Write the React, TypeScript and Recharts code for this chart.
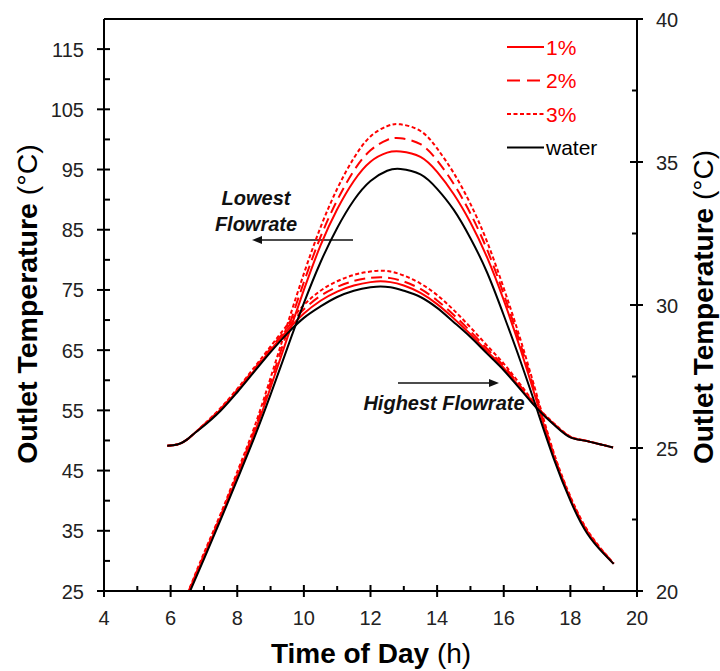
import React from 'react';
import { LineChart, Line, XAxis, YAxis, ReferenceLine, Customized } from 'recharts';

// Time of day (h)
const xTicks = [4, 5, 6, 7, 8, 9, 10, 11, 12, 13, 14, 15, 16, 17, 18, 19, 20];
const leftTicks = [25, 30, 35, 40, 45, 50, 55, 60, 65, 70, 75, 80, 85, 90, 95, 100, 105, 110, 115];
const rightTicks = [20, 22.5, 25, 27.5, 30, 32.5, 35, 37.5, 40];

// Lowest flowrate (left axis)
const hoursLow = [6.5, 7, 7.5, 8, 8.5, 9, 9.5, 10, 10.5, 11, 11.5, 12, 12.5, 12.9, 13.5, 14, 14.5, 15, 15.5, 16, 16.5, 17, 17.5, 18, 18.5, 19, 19.3];
const lowWater = [23.9, 30.3, 36.8, 43.5, 50.3, 57.6, 65.3, 72.8, 79.6, 85.3, 89.9, 93.1, 94.8, 95.1, 94.2, 91.8, 88.3, 83.6, 77.9, 70.8, 63.2, 55.1, 47, 40, 34.6, 31.2, 29.5];
const lowOne = [24.4, 30.8, 37.2, 44, 51, 58.8, 67, 75, 82.4, 88.4, 93.1, 96.3, 97.8, 98, 97.1, 94.6, 90.9, 86.2, 80.4, 73.3, 65.2, 56.3, 47.4, 40.3, 34.9, 31.3, 29.5];
const lowTwo = [24.4, 31, 37.5, 44.4, 51.5, 59.6, 68.1, 76.3, 83.8, 89.9, 94.8, 98.2, 99.9, 100.2, 99.2, 96.5, 92.6, 87.7, 81.7, 74.3, 66, 56.9, 47.7, 40.5, 35, 31.4, 29.6];
const lowThree = [24.5, 31.3, 37.8, 44.8, 52, 60.4, 69.2, 77.7, 85.4, 91.8, 96.9, 100.5, 102.2, 102.5, 101.4, 98.5, 94.4, 89.3, 83, 75.3, 66.8, 57.4, 48, 40.7, 35.2, 31.5, 29.6];

// Highest flowrate (right axis)
const hoursHigh = [5.9, 6.2, 6.5, 6.7, 6.9, 7.5, 8, 8.5, 9, 9.5, 10, 10.5, 11, 11.5, 12, 12.3, 12.6, 13, 13.5, 14, 14.5, 15, 15.5, 16, 16.5, 17, 17.5, 18, 18.5, 19, 19.28];
const highWater = [25.08, 25.12, 25.3, 25.5, 25.68, 26.3, 26.95, 27.65, 28.35, 29.0, 29.55, 29.95, 30.28, 30.5, 30.62, 30.65, 30.62, 30.5, 30.28, 29.9, 29.4, 28.88, 28.3, 27.72, 27.05, 26.38, 25.82, 25.37, 25.24, 25.1, 25.02];
const highOne = [25.08, 25.12, 25.3, 25.5, 25.7, 26.35, 27.0, 27.7, 28.42, 29.1, 29.7, 30.15, 30.47, 30.68, 30.8, 30.83, 30.8, 30.68, 30.42, 30.03, 29.53, 28.98, 28.38, 27.8, 27.1, 26.4, 25.84, 25.38, 25.24, 25.1, 25.02];
const highTwo = [25.08, 25.12, 25.3, 25.5, 25.71, 26.37, 27.03, 27.75, 28.48, 29.2, 29.85, 30.32, 30.63, 30.84, 30.95, 30.97, 30.94, 30.82, 30.56, 30.16, 29.65, 29.08, 28.47, 27.87, 27.16, 26.43, 25.85, 25.39, 25.24, 25.1, 25.02];
const highThree = [25.08, 25.12, 25.3, 25.5, 25.72, 26.4, 27.07, 27.8, 28.55, 29.3, 30.0, 30.5, 30.83, 31.05, 31.17, 31.2, 31.17, 31.03, 30.75, 30.35, 29.82, 29.22, 28.58, 27.95, 27.22, 26.46, 25.87, 25.4, 25.25, 25.1, 25.02];

const legendItems = [
  { label: '1%', color: '#ff0000', dash: undefined as string | undefined },
  { label: '2%', color: '#ff0000', dash: '13 7' },
  { label: '3%', color: '#ff0000', dash: '4 2.5' },
  { label: 'water', color: '#000000', dash: undefined as string | undefined },
];

const build = (hours: number[], vals: number[]) => hours.map((t, i) => ({ t, v: vals[i] }));

const FONT = '"Liberation Sans", Arial, sans-serif';
const TICK_COLOR = '#222';

const LeftTick = (props: any) => {
  const { x, y, payload } = props;
  const v = payload.value;
  const major = (v - 25) % 10 === 0;
  return (
    <g>
      <line x1={major ? x - 7 : x} x2={x + 6} y1={y} y2={y} stroke="#000" strokeWidth={2} />
      {major && (
        <text x={x - 20} y={y + 7.5} textAnchor="end" fontSize={20} fontFamily={FONT} fill={TICK_COLOR}>
          {v}
        </text>
      )}
    </g>
  );
};

const RightTick = (props: any) => {
  const { x, y, payload } = props;
  const v = payload.value;
  const major = (v - 20) % 5 === 0;
  return (
    <g>
      <line x1={major ? x - 7 : x - 5} x2={major ? x + 6 : x} y1={y} y2={y} stroke="#000" strokeWidth={2} />
      {major && (
        <text x={x + 19} y={y + 7.5} textAnchor="start" fontSize={20} fontFamily={FONT} fill={TICK_COLOR}>
          {v}
        </text>
      )}
    </g>
  );
};

const BottomTick = (props: any) => {
  const { x, y, payload } = props;
  const v = payload.value;
  const major = v % 2 === 0;
  return (
    <g>
      <line x1={x} x2={x} y1={y - (major ? 6 : 5)} y2={major ? y + 6 : y} stroke="#000" strokeWidth={2} />
      {major && (
        <text x={x} y={y + 34} textAnchor="middle" fontSize={20} fontFamily={FONT} fill={TICK_COLOR}>
          {v}
        </text>
      )}
    </g>
  );
};

const Overlay = () => (
  <g fontFamily={FONT}>
    {/* axis titles */}
    <text transform="translate(37,304) rotate(-90)" textAnchor="middle" fontSize={28.5} fill="#000">
      <tspan fontWeight="bold">Outlet Temperature </tspan>
      <tspan fontWeight="normal">(°C)</tspan>
    </text>
    <text transform="translate(713,307) rotate(-90)" textAnchor="middle" fontSize={28} fill="#000">
      <tspan fontWeight="bold">Outlet Temperature </tspan>
      <tspan fontWeight="normal">(°C)</tspan>
    </text>
    <text x={371} y={663} textAnchor="middle" fontSize={28} fill="#000">
      <tspan fontWeight="bold">Time of Day </tspan>
      <tspan fontWeight="normal">(h)</tspan>
    </text>
    {/* annotations */}
    <text x={256} y={205} textAnchor="middle" fontSize={20} fontWeight="bold" fontStyle="italic" fill="#111">Lowest</text>
    <text x={256} y={231} textAnchor="middle" fontSize={20} fontWeight="bold" fontStyle="italic" fill="#111">Flowrate</text>
    <line x1={353} x2={258} y1={240} y2={240} stroke="#111" strokeWidth={1.6} />
    <polygon points="252,240 262,236 262,244" fill="#111" />
    <text x={444} y={410} textAnchor="middle" fontSize={20} fontWeight="bold" fontStyle="italic" fill="#111">Highest Flowrate</text>
    <line x1={398} x2={493} y1={383} y2={383} stroke="#111" strokeWidth={1.6} />
    <polygon points="499,383 489,379 489,387" fill="#111" />
    {/* legend */}
    {legendItems.map((it, i) => {
      const y = 47 + i * 33.5;
      return (
        <g key={it.label}>
          <line x1={507} x2={544} y1={y} y2={y} stroke={it.color} strokeWidth={2} strokeDasharray={it.dash} />
          <text x={546} y={y + 7.5} fontSize={21} fill={it.color}>{it.label}</text>
        </g>
      );
    })}
  </g>
);

export default function App() {
  const lines = [
    { key: 'low3', data: build(hoursLow, lowThree), axis: 'left', color: '#ff0000', dash: '4 2.5', curve: 'natural' },
    { key: 'low2', data: build(hoursLow, lowTwo), axis: 'left', color: '#ff0000', dash: '11 6', curve: 'natural' },
    { key: 'low1', data: build(hoursLow, lowOne), axis: 'left', color: '#ff0000', dash: undefined, curve: 'natural' },
    { key: 'high3', data: build(hoursHigh, highThree), axis: 'right', color: '#ff0000', dash: '4 2.5', curve: 'monotone' },
    { key: 'high2', data: build(hoursHigh, highTwo), axis: 'right', color: '#ff0000', dash: '11 6', curve: 'monotone' },
    { key: 'high1', data: build(hoursHigh, highOne), axis: 'right', color: '#ff0000', dash: undefined, curve: 'monotone' },
    { key: 'lowW', data: build(hoursLow, lowWater), axis: 'left', color: '#000000', dash: undefined, curve: 'natural' },
    { key: 'highW', data: build(hoursHigh, highWater), axis: 'right', color: '#000000', dash: undefined, curve: 'monotone' },
  ];
  return (
    <div style={{ position: 'absolute', left: 0, top: 0, width: 720, height: 671, background: '#fff' }}>
      <LineChart width={720} height={671} margin={{ top: 19, right: 23, left: 40, bottom: 30 }}>
        <XAxis
          type="number"
          dataKey="t"
          domain={[4, 20]}
          ticks={xTicks}
          interval={0}
          allowDataOverflow
          height={50}
          tickSize={0}
          tickMargin={0}
          tickLine={false}
          axisLine={{ stroke: '#000', strokeWidth: 2 }}
          tick={<BottomTick />}
        />
        <YAxis
          yAxisId="left"
          orientation="left"
          type="number"
          domain={[25, 120]}
          ticks={leftTicks}
          interval={0}
          allowDataOverflow
          width={64}
          tickSize={0}
          tickMargin={0}
          tickLine={false}
          axisLine={{ stroke: '#000', strokeWidth: 2 }}
          tick={<LeftTick />}
        />
        <YAxis
          yAxisId="right"
          orientation="right"
          type="number"
          domain={[20, 40]}
          ticks={rightTicks}
          interval={0}
          allowDataOverflow
          width={60}
          tickSize={0}
          tickMargin={0}
          tickLine={false}
          axisLine={{ stroke: '#000', strokeWidth: 2 }}
          tick={<RightTick />}
        />
        <ReferenceLine yAxisId="left" y={120} stroke="#000" strokeWidth={2} />
        {lines.map((l) => (
          <Line
            key={l.key}
            data={l.data}
            dataKey="v"
            yAxisId={l.axis}
            type={l.curve as any}
            stroke={l.color}
            strokeWidth={2}
            strokeDasharray={l.dash}
            dot={false}
            activeDot={false}
            isAnimationActive={false}
          />
        ))}
        <Customized component={Overlay} />
      </LineChart>
    </div>
  );
}
